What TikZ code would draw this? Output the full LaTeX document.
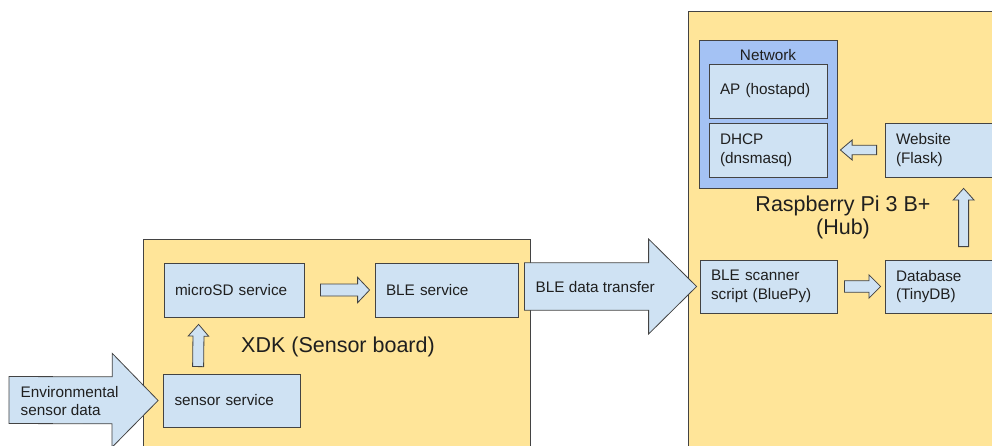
\documentclass[tikz,border=0pt]{standalone}
\usepackage{fontspec}
\setmainfont{Liberation Sans}
\usetikzlibrary{calc}
\usetikzlibrary{positioning}

\definecolor{boardyellow}{HTML}{FFE599}
\definecolor{svcblue}{HTML}{CFE2F3}
\definecolor{netblue}{HTML}{A4C2F4}
\definecolor{edgegray}{HTML}{434343}
\definecolor{inkgray}{HTML}{1F1F1F}

% block arrow: start, tip, half shaft, half head, head length
\newcommand{\fatarrow}[5]{%
	\path (#2) coordinate (fa-tip) ($(#2)!#5!(#1)$) coordinate (fa-base);
	\draw[fatarrow] ($(#1)!#3!90:(#2)$) -- ($(fa-base)!#3!-90:(#1)$)
		-- ($(fa-base)!#4!-90:(#1)$) -- (fa-tip) -- ($(fa-base)!#4!90:(#1)$)
		-- ($(fa-base)!#3!90:(#1)$) -- ($(#1)!#3!-90:(#2)$) -- cycle;}

\begin{document}
\begin{tikzpicture}[x=1pt, y=-1pt,
				board/.style={draw=edgegray, fill=boardyellow, line width=0.8pt},
				svcbox/.style={draw=edgegray, fill=svcblue, line width=0.8pt, text=inkgray,
					inner xsep=11pt, inner ysep=0pt, align=left, text width=#1, minimum height=54pt,
					font=\fontsize{15.3}{18.5}\selectfont},
				netbox/.style={draw=edgegray, fill=netblue, line width=0.8pt, inner sep=0pt},
				fatarrow/.style={draw=edgegray, fill=svcblue, line width=0.8pt, line join=miter},
				plain/.style={inner sep=0pt, text=inkgray, font=\fontsize{15.3}{18.5}\selectfont},
				title/.style={inner sep=0pt, text=inkgray, align=center, font=\fontsize{21.5}{23}\selectfont},
				]
				\clip (0,0) rectangle (992,446);

				% Boards
				\node[board, minimum width=387pt, minimum height=231pt] (xdk) at (336.5,354.5) {};
				\node[board, minimum width=330pt, minimum height=469pt] (hub) at (853,245.5) {};

				% Sensor board services
				\node[svcbox=118pt, minimum width=140pt] (msd) at (234,290) {microSD service};
				\node[svcbox=121pt, minimum width=143pt] (ble) at (446.5,290) {BLE service};
				\node[svcbox=115pt, minimum width=137pt, minimum height=53pt] (sens) at (232,400.5) {sensor service};

				% Hub services
				\node[netbox, minimum width=138pt, minimum height=148pt] (net) at (768,114) {};
				\node[plain] (nettitle) at (768,55) {Network};
				\node[svcbox=96pt, minimum width=118pt] (ap) at (768,91) {AP (hostapd)};
				\node[svcbox=96pt, minimum width=118pt] (dhcp) at (768,150) {DHCP\\(dnsmasq)};
				\node[svcbox=115pt, minimum width=137pt] (web) at (953.5,150) {Website\\(Flask)};
				\node[svcbox=115pt, minimum width=137pt, minimum height=53pt] (scan) at (768.5,286.5) {BLE scanner\\script (BluePy)};
				\node[svcbox=115pt, minimum width=137pt, minimum height=53pt] (db) at (953.5,286.5) {Database\\(TinyDB)};

				% Board names
				\node[title] (xdkname) at (338,347) {XDK (Sensor board)};
				\node[title] (hubname) at (843,217) {Raspberry Pi 3 B+\\(Hub)};

				% Arrow ends
				\coordinate (envin) at (9,400);
				\coordinate (envout) at ($(sens.west)+(-5,0)$);
				\coordinate (txin) at ($(ble.east)+(6,-3.5)$);
				\coordinate (txout) at ($(scan.west)+(-3,0)$);
				\coordinate (sensup) at ($(sens.north west)+(35,-7)$);
				\coordinate (msddown) at ($(msd.south west)+(35,7)$);
				\coordinate (dbup) at ($(db.north west)+(79,-13)$);
				\coordinate (webdown) at ($(web.south west)+(79,11)$);

				% Block arrows
				\fatarrow{envin}{envout}{23.5pt}{47pt}{46pt}
				\fatarrow{txin}{txout}{23.7pt}{47.5pt}{48pt}
				\fatarrow{$(msd.east)+(16,0)$}{$(ble.west)+(-5,0)$}{6pt}{12.7pt}{12pt}
				\fatarrow{sensup}{msddown}{5.5pt}{10.2pt}{11.7pt}
				\fatarrow{$(scan.east)+(7,0)$}{$(db.west)+(-4,0)$}{5.8pt}{11.7pt}{11.7pt}
				\fatarrow{$(web.west)+(-8,0)$}{$(dhcp.east)+(13,0)$}{4.7pt}{10pt}{11.7pt}
				\fatarrow{dbup}{webdown}{5pt}{10.5pt}{11.7pt}

				% Arrow labels
				\node[plain, anchor=west, align=left] (envtxt) at (20.5,401) {Environmental\\sensor data};
				\node[plain, anchor=west] (txtxt) at (535.5,287) {BLE data transfer};
\end{tikzpicture}
\end{document}
